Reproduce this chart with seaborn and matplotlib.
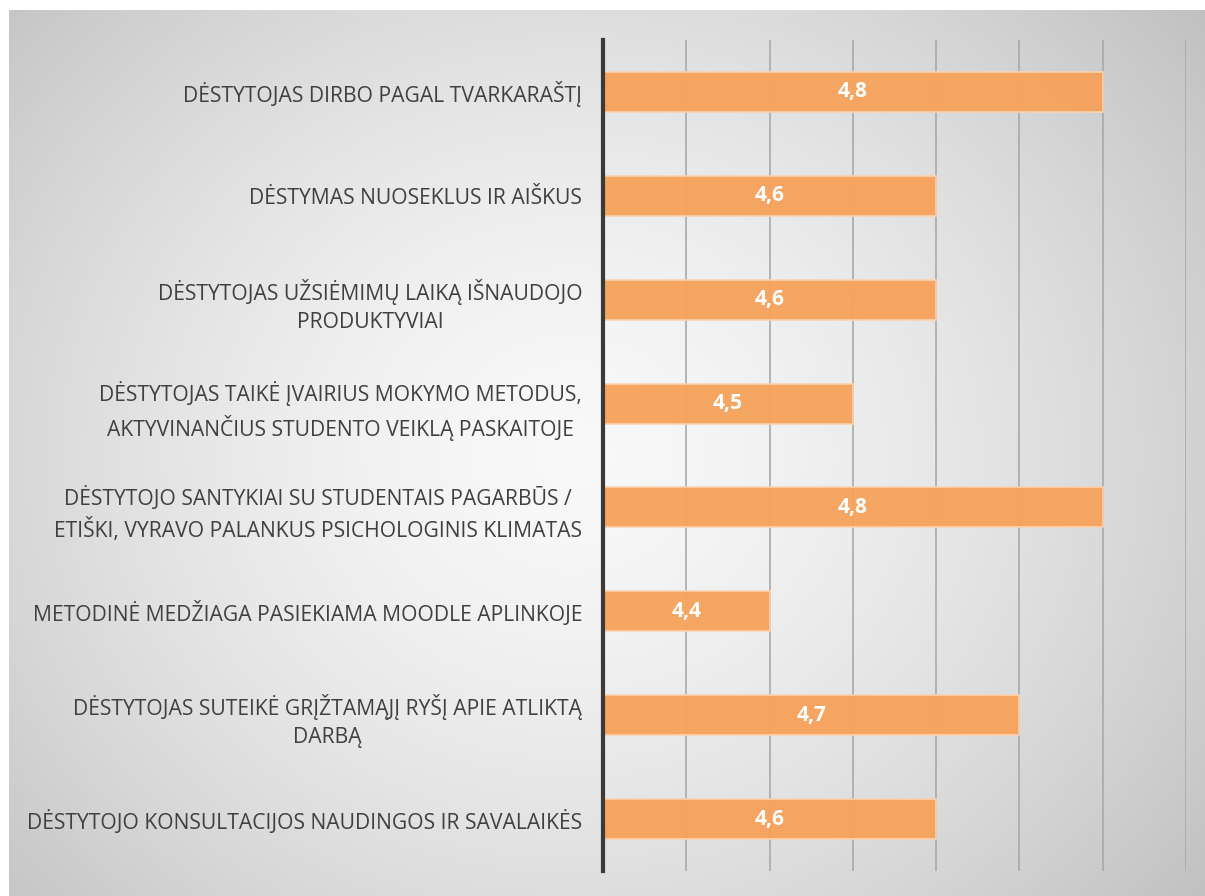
import numpy as np
import pandas as pd
import matplotlib
matplotlib.use("Agg")
import matplotlib.pyplot as plt
import seaborn as sns

categories = [
    "DĖSTYTOJAS DIRBO PAGAL TVARKARAŠTĮ",
    "DĖSTYMAS NUOSEKLUS IR AIŠKUS",
    "DĖSTYTOJAS UŽSIĖMIMŲ LAIKĄ IŠNAUDOJO\nPRODUKTYVIAI",
    "DĖSTYTOJAS TAIKĖ ĮVAIRIUS MOKYMO METODUS,\nAKTYVINANČIUS STUDENTO VEIKLĄ PASKAITOJE",
    "DĖSTYTOJO SANTYKIAI SU STUDENTAIS PAGARBŪS /\nETIŠKI, VYRAVO PALANKUS PSICHOLOGINIS KLIMATAS",
    "METODINĖ MEDŽIAGA PASIEKIAMA MOODLE APLINKOJE",
    "DĖSTYTOJAS SUTEIKĖ GRĮŽTAMĄJĮ RYŠĮ APIE ATLIKTĄ\nDARBĄ",
    "DĖSTYTOJO KONSULTACIJOS NAUDINGOS IR SAVALAIKĖS",
]
values = [4.8, 4.6, 4.6, 4.5, 4.8, 4.4, 4.7, 4.6]
value_labels = ["4,8", "4,6", "4,6", "4,5", "4,8", "4,4", "4,7", "4,6"]

df = pd.DataFrame({"cat": categories, "val": values})

sns.set_theme(style="white")
plt.rcParams["font.family"] = ["Open Sans", "DejaVu Sans"]

W, H = 1205, 896
fig = plt.figure(figsize=(W / 100, H / 100), dpi=100)
fig.patch.set_facecolor("white")

# radial gradient background
bg = fig.add_axes([9 / W, 0, 1 - 9 / W, 1 - 10 / H])
ny, nx = 300, 400
yy, xx = np.mgrid[0:ny, 0:nx]
cx, cy = nx * 0.47, ny * 0.5
r = np.sqrt(((xx - cx) / (nx * 0.62)) ** 2 + ((yy - cy) / (ny * 0.75)) ** 2)
r = np.clip(r, 0, 1.2)
val = 0.975 - (0.975 - 0.78) * (r / 1.0) ** 1.5
val = np.clip(val, 0.75, 1)
img = np.dstack([val, val, val])
bg.imshow(img, aspect="auto", extent=[0, 1, 0, 1], interpolation="bilinear")
bg.set_axis_off()
bg.set_zorder(0)

ax = fig.add_axes([603 / W, 1 - 871 / H, (1186 - 603) / W, (871 - 40) / H])
ax.set_zorder(1)
ax.patch.set_alpha(0)

sns.barplot(data=df, y="cat", x="val", orient="h", color="#F6A35C",
            saturation=1, width=0.385, edgecolor="#FBD3B0", linewidth=1.2,
            alpha=0.96, ax=ax, zorder=3)

ax.set_xlim(4.2, 4.9)
ax.set_xticks(np.arange(4.2, 4.91, 0.1))
ax.set_xticklabels([])
ax.grid(axis="x", color="#a8a8a8", linewidth=1.3, alpha=0.9, zorder=0)
ax.set_axisbelow(True)
for s in ["top", "right", "bottom"]:
    ax.spines[s].set_visible(False)
ax.spines["left"].set_color("#3a3a3a")
ax.spines["left"].set_linewidth(3)
ax.spines["left"].set_zorder(5)
ax.set_xlabel("")
ax.set_ylabel("")
ax.tick_params(axis="y", length=0, pad=15, labelsize=15.2, labelcolor="#404040")
ax.tick_params(axis="x", length=0)
for t in ax.get_yticklabels():
    t.set_multialignment("center")
    t.set_linespacing(1.45)

for i, (v, lab) in enumerate(zip(values, value_labels)):
    ax.text((4.2 + v) / 2, i, lab, ha="center", va="center", color="white",
            fontsize=15, fontweight="bold", zorder=6)

fig.savefig("out.png", dpi=100)
